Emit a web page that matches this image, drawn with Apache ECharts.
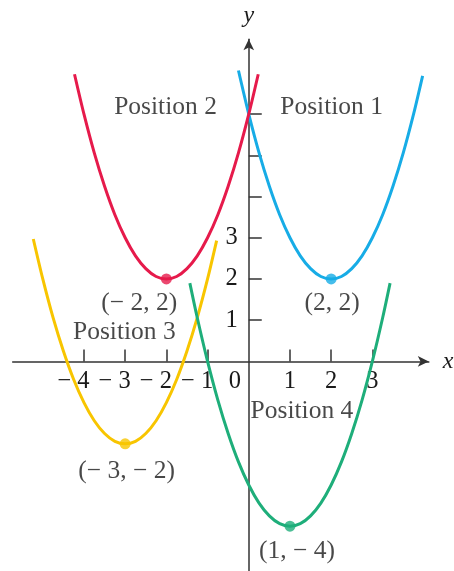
<!DOCTYPE html>
<html>
<head>
<meta charset="utf-8">
<script src="https://cdn.jsdelivr.net/npm/echarts@6/dist/echarts.min.js"></script>
<style>
html, body { margin: 0; padding: 0; background: #fff; }
#chart { width: 454px; height: 571px; }
</style>
</head>
<body>
<div id="chart"></div>
<script>
var pos1 = [[-0.25, 7.06], [0, 6], [0.25, 5.06], [0.5, 4.25], [0.75, 3.56], [1, 3], [1.25, 2.56], [1.5, 2.25], [1.75, 2.06], [2, 2],
    [2.25, 2.06], [2.5, 2.25], [2.75, 2.56], [3, 3], [3.25, 3.56], [3.5, 4.25], [3.75, 5.06], [4, 6], [4.22, 6.93]];
var pos2 = [[-4.23, 6.97], [-4, 6], [-3.75, 5.06], [-3.5, 4.25], [-3.25, 3.56], [-3, 3], [-2.75, 2.56], [-2.5, 2.25], [-2.25, 2.06], [-2, 2],
    [-1.75, 2.06], [-1.5, 2.25], [-1.25, 2.56], [-1, 3], [-0.75, 3.56], [-0.5, 4.25], [-0.25, 5.06], [0, 6], [0.23, 6.97]];
var pos3 = [[-5.23, 2.97], [-5, 2], [-4.75, 1.06], [-4.5, 0.25], [-4.25, -0.44], [-4, -1], [-3.75, -1.44], [-3.5, -1.75], [-3.25, -1.94], [-3, -2],
    [-2.75, -1.94], [-2.5, -1.75], [-2.25, -1.44], [-2, -1], [-1.75, -0.44], [-1.5, 0.25], [-1.25, 1.06], [-1, 2], [-0.78, 2.93]];
var pos4 = [[-1.43, 1.9], [-1.25, 1.06], [-1, 0], [-0.75, -0.94], [-0.5, -1.75], [-0.25, -2.44], [0, -3], [0.25, -3.44], [0.5, -3.75], [0.75, -3.94], [1, -4],
    [1.25, -3.94], [1.5, -3.75], [1.75, -3.44], [2, -3], [2.25, -2.44], [2.5, -1.75], [2.75, -0.94], [3, 0], [3.25, 1.06], [3.43, 1.9]];

// vertices (same order as the curves)
var vertexX = [2, -2, -3, 1];
var vertexY = [2, 2, -2, -4];
var vertexText = ['(2, 2)', '(− 2, 2)', '(− 3, − 2)', '(1, − 4)'];

// captions
var captionText = ['Position 1', 'Position 2', 'Position 3', 'Position 4'];
var captionX = [2.01, -2.02, -3.02, 1.29];
var captionY = [6.16, 6.16, 0.70, -1.22];

// axes
var xTicks = [-4, -3, -2, -1, 1, 2, 3];
var xLabels = [-4, -3, -2, -1, 0, 1, 2, 3];
var yTicks = [1, 2, 3, 4, 5, 6];
var yLabels = [1, 2, 3];

var curveColors = ['#17ace6', '#e61a4b', '#f8c500', '#1eae7a'];
var ink = '#1a1a1a';
var serif = '"Liberation Serif", "DejaVu Serif", serif';
var axisInk = '#333';
// label nudges relative to the vertex dot (px)
var nudge = [[1, 24], [-27, 24], [1.5, 28], [7, 25]];

// plot box; 41.2 px per unit both ways
var gridLeft = 12.7, gridTop = 39.2, gridW = 416.1, gridH = 532.3;
var xMin = -5.73, xMax = 4.37, yMin = -5.1, yMax = 7.82;
// shift the axes onto the zero lines (labels don't follow onZero here)
var xShift = -(gridH * (0 - yMin) / (yMax - yMin));
var yShift = -(gridW * (0 - xMin) / (xMax - xMin));

var chart = echarts.init(document.getElementById('chart'));

var curves = [pos1, pos2, pos3, pos4];
var series = [];
for (var i = 0; i < curves.length; i++) {
    series.push({
        type: 'line',
        data: curves[i],
        smooth: 0.3,
        showSymbol: false,
        silent: true,
        lineStyle: { color: curveColors[i], width: 3 },
        z: 3
    });
}

var vertexData = [];
for (var j = 0; j < vertexX.length; j++) {
    vertexData.push({
        value: [vertexX[j], vertexY[j]],
        itemStyle: { color: curveColors[j] },
        label: { offset: nudge[j] }
    });
}
series.push({
    type: 'scatter',
    data: vertexData,
    symbolSize: 11,
    z: 4,
    label: {
        show: true,
        position: 'inside',
        formatter: function (p) { return vertexText[p.dataIndex]; },
        color: ink,
        fontFamily: serif,
        fontSize: 25.5
    }
});

var captionData = [];
for (var k = 0; k < captionText.length; k++) {
    captionData.push([captionX[k], captionY[k]]);
}
series.push({
    type: 'scatter',
    data: captionData,
    symbolSize: 0,
    z: 5,
    label: {
        show: true,
        position: 'inside',
        formatter: function (p) { return captionText[p.dataIndex]; },
        color: ink,
        fontFamily: serif,
        fontSize: 25.5
    }
});

var option = {
    animation: false,
    backgroundColor: '#fff',
    grid: { left: gridLeft, top: gridTop, width: gridW, height: gridH, outerBoundsMode: 'none' },
    xAxis: {
        type: 'value',
        min: xMin,
        max: xMax,
        position: 'bottom',
        offset: xShift,
        name: 'x',
        nameLocation: 'end',
        nameGap: 14,
        nameTextStyle: { fontStyle: 'italic', fontFamily: serif, fontSize: 24, color: ink },
        axisLine: { onZero: false, symbol: ['none', 'arrow'], symbolSize: [8, 11], lineStyle: { color: axisInk, width: 1.5 } },
        axisTick: { show: true, inside: true, length: 12, customValues: xTicks, lineStyle: { color: axisInk, width: 1.5 } },
        axisLabel: {
            customValues: xLabels,
            showMinLabel: true,
            showMaxLabel: true,
            hideOverlap: false,
            margin: 8,
            formatter: function (v) {
                // minus hangs to the left so the digit sits under its tick
                if (v < 0) return '{n|− ' + (-v) + '}';
                if (v === 0) return '{z|0}';
                return '{t|' + v + '}';
            },
            rich: {
                t: { fontFamily: serif, fontSize: 24.5, color: ink },
                n: { fontFamily: serif, fontSize: 24.5, color: ink, padding: [0, 0, 0, -21] },
                z: { fontFamily: serif, fontSize: 24.5, color: ink, padding: [0, 28, 0, 0] }
            }
        },
        splitLine: { show: false }
    },
    yAxis: {
        type: 'value',
        min: yMin,
        max: yMax,
        position: 'left',
        offset: yShift,
        name: 'y',
        nameLocation: 'end',
        nameGap: 12,
        nameTextStyle: { fontStyle: 'italic', fontFamily: serif, fontSize: 24, color: ink },
        axisLine: { onZero: false, symbol: ['none', 'arrow'], symbolSize: [8, 11], lineStyle: { color: axisInk, width: 1.5 } },
        axisTick: { show: true, inside: true, length: 13, customValues: yTicks, lineStyle: { color: axisInk, width: 1.5 } },
        axisLabel: {
            customValues: yLabels,
            showMinLabel: true,
            showMaxLabel: true,
            margin: 11,
            fontFamily: serif,
            fontSize: 24.5,
            color: ink
        },
        splitLine: { show: false }
    },
    series: series
};

chart.setOption(option);
</script>
</body>
</html>
